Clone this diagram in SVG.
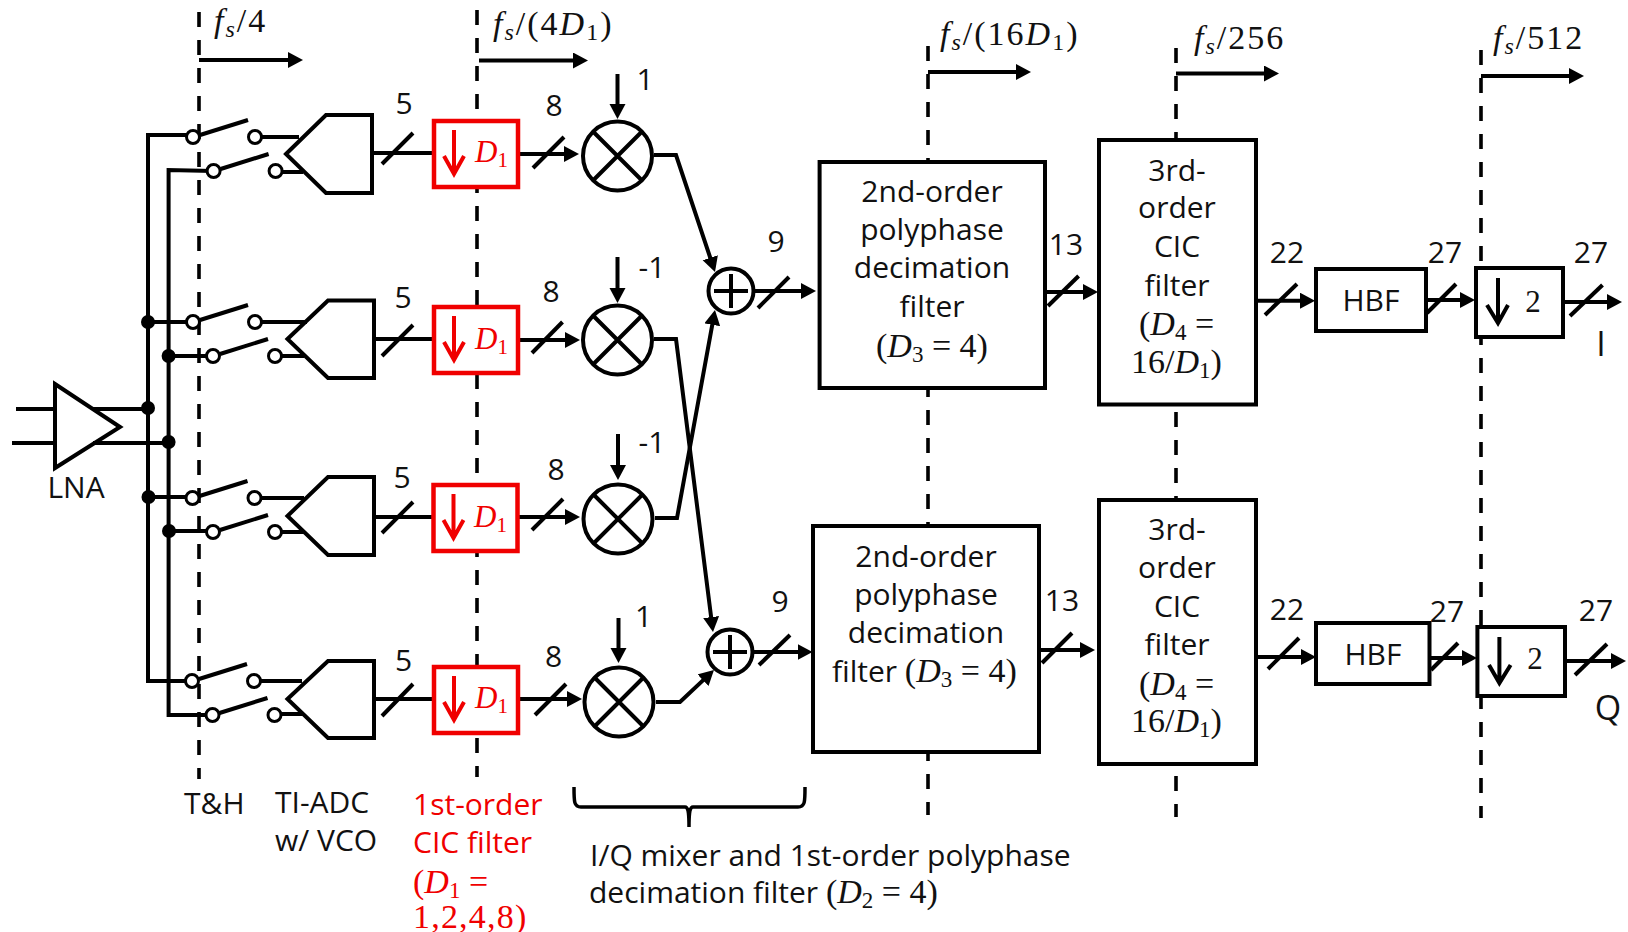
<svg xmlns="http://www.w3.org/2000/svg" width="1628" height="932" viewBox="0 0 1628 932">
<style>
.t{font-family:"Open Sans","Noto Sans","Liberation Sans",sans-serif;font-size:30px;fill:#111}
.big{font-size:34px}
.m{text-anchor:middle}
.r{fill:#f00000}
.q{font-family:"Liberation Serif","DejaVu Serif",serif;font-size:34px;fill:#111}
.f{letter-spacing:2px}
.qr{font-family:"Liberation Serif","DejaVu Serif",serif;font-size:31px;fill:#f00000}
.i{font-style:italic}
.two{font-size:31px}
.w{fill:none;stroke:#000;stroke-width:4}
.a{fill:none;stroke:#000;stroke-width:4;marker-end:url(#h)}
.d{fill:none;stroke:#000;stroke-width:3.6;stroke-dasharray:15 13}
.s{fill:none;stroke:#000;stroke-width:3.5}
.b{fill:#fff;stroke:#000;stroke-width:4}
.rb{fill:#fff;stroke:#f00000;stroke-width:4.5}
.ra{fill:none;stroke:#f00000;stroke-width:4}
.ba{fill:none;stroke:#000;stroke-width:4}
.c{fill:#fff;stroke:#000;stroke-width:3}
.j{fill:#000}
.x{fill:#fff;stroke:#000;stroke-width:4}
.adc{fill:none;stroke:#000;stroke-width:4;stroke-linejoin:miter}
</style>
<defs>
<marker id="h" markerUnits="userSpaceOnUse" markerWidth="16" markerHeight="18" refX="9" refY="8" orient="auto"><path d="M0 0L15 8L0 16Z" fill="#000"/></marker>
<g id="dn"><rect class="rb" x="2" y="2" width="84" height="66"/><path class="ra" d="M22 11V55M12 37L22 55L32 37"/></g>
<g id="mx"><circle class="x" r="34.500"/><path class="ba" d="M-24 -24L24 24M-24 24L24 -24"/></g>
<g id="ad"><circle class="x" r="22.500"/><path class="ba" d="M-17 0H17M0 -17V17"/></g>
<g id="sw"><path class="w" d="M7 -2L55 -17"/><circle class="c" r="6.500"/><circle class="c" cx="62" r="6.500"/></g>
</defs>

<g id="clock-lines">
<path class="d" d="M199 12V779"/>
<path class="d" d="M477 10V777"/>
<path class="d" d="M928 46V815"/>
<path class="d" d="M1176 48V817"/>
<path class="d" d="M1481 50V818"/>
</g>

<g id="connectors">
<path class="a" d="M199 60H297"/>
<path class="a" d="M479 60.500H582"/>
<path class="a" d="M928 72H1025"/>
<path class="a" d="M1176 73.500H1273"/>
<path class="a" d="M1481 76H1578"/>
<path class="w" d="M193 135H148V681H192"/>
<path class="w" d="M213 171L168.600 170V715H212"/>
<path class="w" d="M16 409H55M12 443H55M93 409H148M93 443H169"/>
<path class="w" d="M148 322H193M168.600 356H213M148.500 497H192M169 531H213"/>
<path class="w" d="M255 137H299M276 172H303M256 322H307M277 356H304M256 498H304M277.500 532H304M255 681H302M276 714H304"/>
<path class="w" d="M372 153H432M382 164L413 133M374 339H432M382 356L413 325M374 517H432M382 533L413 502M374 699H432M382 716L413 684"/>
<path class="a" d="M518 154H573"/><path class="w" d="M533 168L564 137"/>
<path class="a" d="M518 340H574"/><path class="w" d="M532 353L562.500 322"/>
<path class="a" d="M517 517H574"/><path class="w" d="M532 530L563 499"/>
<path class="a" d="M518 699H576"/><path class="w" d="M535 715L566 684"/>
<path class="a" d="M617.500 74V113"/>
<path class="a" d="M617.500 257V297"/>
<path class="a" d="M618 434V474"/>
<path class="a" d="M618.500 618V657"/>
<path class="a" d="M654 155H676L713.100 266.300"/>
<path class="a" d="M654 339H676L712.250 626"/>
<path class="a" d="M655 518H677L713.900 315.900"/>
<path class="a" d="M656 702H680L709.600 674.100"/>
<path class="a" d="M753 291H810"/><path class="w" d="M758 308L789 277"/>
<path class="a" d="M753 652H806.500"/><path class="w" d="M759 665L790 635"/>
<path class="a" d="M1046 292H1092"/><path class="w" d="M1048 306L1078.600 276"/>
<path class="a" d="M1039 650H1089"/><path class="w" d="M1042 663L1072 633"/>
<path class="a" d="M1256 300.700H1309"/><path class="w" d="M1265 315L1297 284"/>
<path class="a" d="M1256 657H1310"/><path class="w" d="M1268 669L1299 638"/>
<path class="a" d="M1426 300H1469"/><path class="w" d="M1427 313L1456 284"/>
<path class="a" d="M1429 658H1471"/><path class="w" d="M1431 670L1458 643"/>
<path class="a" d="M1563 302H1616"/><path class="w" d="M1570 316L1602.500 285"/>
<path class="a" d="M1565 661H1620"/><path class="w" d="M1575 675L1607 644"/>
</g>

<g id="junctions">
<circle class="j" cx="148" cy="322" r="7"/><circle class="j" cx="168.600" cy="356" r="7"/>
<circle class="j" cx="148" cy="408" r="7"/><circle class="j" cx="168.600" cy="442" r="7"/>
<circle class="j" cx="148.500" cy="497" r="7"/><circle class="j" cx="169" cy="531" r="7"/>
</g>

<g id="lna"><path class="adc" d="M55 384L120 427L55 468Z"/><text class="t m" x="76" y="498">LNA</text></g>

<g id="switches">
<use href="#sw" x="193" y="137"/><use href="#sw" x="213.600" y="171"/>
<use href="#sw" x="193" y="322"/><use href="#sw" x="213" y="356"/>
<use href="#sw" x="192.500" y="498"/><use href="#sw" x="213" y="532"/>
<use href="#sw" x="192" y="681"/><use href="#sw" x="212.500" y="715"/>
</g>

<g id="adc1"><path class="adc" d="M286 154L326 115H372V193H326Z"/></g>
<g id="adc2"><path class="adc" d="M287.500 339L328 300.500H374V378H328Z"/></g>
<g id="adc3"><path class="adc" d="M287.500 516L328 477H374V555H328Z"/></g>
<g id="adc4"><path class="adc" d="M287.500 699L328 661H374V738H328Z"/></g>

<g id="cic1a"><use href="#dn" x="432" y="119"/><text class="qr" x="475" y="162"><tspan class="i">D</tspan><tspan font-size="21" dy="5">1</tspan></text></g>
<g id="cic1b"><use href="#dn" x="432" y="305"/><text class="qr" x="475" y="349"><tspan class="i">D</tspan><tspan font-size="21" dy="5">1</tspan></text></g>
<g id="cic1c"><use href="#dn" x="431.500" y="483"/><text class="qr" x="474" y="527"><tspan class="i">D</tspan><tspan font-size="21" dy="5">1</tspan></text></g>
<g id="cic1d"><use href="#dn" x="432" y="665"/><text class="qr" x="475" y="708"><tspan class="i">D</tspan><tspan font-size="21" dy="5">1</tspan></text></g>

<g id="mixer1"><use href="#mx" x="617.500" y="156"/></g>
<g id="mixer2"><use href="#mx" x="617.500" y="340"/></g>
<g id="mixer3"><use href="#mx" x="618" y="519"/></g>
<g id="mixer4"><use href="#mx" x="619" y="702"/></g>
<g id="adder1"><use href="#ad" x="731" y="291"/></g>
<g id="adder2"><use href="#ad" x="730" y="652"/></g>

<g id="pd1"><rect class="b" x="819.600" y="162" width="225.400" height="226"/>
<text class="t m" x="932" y="202">2nd-order</text><text class="t m" x="932" y="240">polyphase</text><text class="t m" x="932" y="278">decimation</text><text class="t m" x="932" y="317">filter</text>
<text class="q" x="876" y="357">(<tspan class="i">D</tspan><tspan font-size="23" dy="5">3</tspan><tspan dy="-5"> = 4)</tspan></text></g>
<g id="pd2"><rect class="b" x="813" y="526" width="226" height="226"/>
<text class="t m" x="926" y="567">2nd-order</text><text class="t m" x="926" y="605">polyphase</text><text class="t m" x="926" y="643">decimation</text>
<text class="t" x="832" y="682">filter <tspan class="q">(<tspan class="i">D</tspan><tspan font-size="23" dy="5">3</tspan><tspan dy="-5"> = 4)</tspan></tspan></text></g>
<g id="cic3a"><rect class="b" x="1099" y="140" width="157" height="264.500"/>
<text class="t m" x="1177" y="181">3rd-</text><text class="t m" x="1177" y="218">order</text><text class="t m" x="1177" y="257">CIC</text><text class="t m" x="1177" y="296">filter</text>
<text class="q" x="1139" y="335">(<tspan class="i">D</tspan><tspan font-size="23" dy="5">4</tspan><tspan dy="-5"> =</tspan></text>
<text class="q" x="1131" y="373">16/<tspan class="i">D</tspan><tspan font-size="23" dy="5">1</tspan><tspan dy="-5">)</tspan></text></g>
<g id="cic3b"><rect class="b" x="1099" y="500" width="157" height="264"/>
<text class="t m" x="1177" y="540">3rd-</text><text class="t m" x="1177" y="578">order</text><text class="t m" x="1177" y="617">CIC</text><text class="t m" x="1177" y="655">filter</text>
<text class="q" x="1139" y="695">(<tspan class="i">D</tspan><tspan font-size="23" dy="5">4</tspan><tspan dy="-5"> =</tspan></text>
<text class="q" x="1131" y="732">16/<tspan class="i">D</tspan><tspan font-size="23" dy="5">1</tspan><tspan dy="-5">)</tspan></text></g>
<g id="hbf1"><rect class="b" x="1316" y="269" width="110" height="62"/><text class="t m" x="1371" y="311">HBF</text></g>
<g id="hbf2"><rect class="b" x="1316" y="623" width="113.500" height="61"/><text class="t m" x="1373" y="665">HBF</text></g>
<g id="dec1"><rect class="b" x="1476" y="268" width="87" height="69"/><path class="ba" d="M1498 278V323M1487 305L1498 323L1508 305"/><text class="q m two" x="1533" y="312">2</text></g>
<g id="dec2"><rect class="b" x="1477.400" y="627" width="87.600" height="69"/><path class="ba" d="M1499.400 637V683M1489 665L1499.400 683L1510.600 665"/><text class="q m two" x="1535" y="669">2</text></g>

<g id="brace"><path class="s" d="M574 787C574 802 574 807 581 807H685C688 807 689 812 689 827C689 812 690 807 693 807H798C805 807 805 802 805 787"/></g>

<g id="width-labels">
<text class="t m" x="404" y="114">5</text><text class="t m" x="403" y="308">5</text><text class="t m" x="402" y="488">5</text><text class="t m" x="403.500" y="671">5</text>
<text class="t m" x="554" y="116">8</text><text class="t m" x="551" y="302">8</text><text class="t m" x="556" y="480">8</text><text class="t m" x="553.600" y="667">8</text>
<text class="t m" x="645" y="90">1</text><text class="t m" x="652" y="278">-1</text><text class="t m" x="652" y="453">-1</text><text class="t m" x="643.500" y="627">1</text>
<text class="t m" x="776" y="252">9</text><text class="t m" x="780" y="612">9</text>
<text class="t m" x="1066" y="255">13</text><text class="t m" x="1062" y="611">13</text>
<text class="t m" x="1287" y="263">22</text><text class="t m" x="1287" y="620">22</text>
<text class="t m" x="1445" y="263">27</text><text class="t m" x="1447" y="622">27</text>
<text class="t m" x="1591" y="263">27</text><text class="t m" x="1596" y="621">27</text>
<text class="t m big" x="1601" y="356">I</text><text class="t m big" x="1608" y="720">Q</text>
</g>

<g id="rate-labels">
<text class="q f" x="214" y="32"><tspan class="i">f</tspan><tspan class="i" font-size="24" dy="5">s</tspan><tspan dy="-5">/4</tspan></text>
<text class="q f" x="493" y="35"><tspan class="i">f</tspan><tspan class="i" font-size="24" dy="5">s</tspan><tspan dy="-5">/(4</tspan><tspan class="i">D</tspan><tspan font-size="24" dy="5">1</tspan><tspan dy="-5">)</tspan></text>
<text class="q f" x="940" y="45"><tspan class="i">f</tspan><tspan class="i" font-size="24" dy="5">s</tspan><tspan dy="-5">/(16</tspan><tspan class="i">D</tspan><tspan font-size="24" dy="5">1</tspan><tspan dy="-5">)</tspan></text>
<text class="q f" x="1194" y="49"><tspan class="i">f</tspan><tspan class="i" font-size="24" dy="5">s</tspan><tspan dy="-5">/256</tspan></text>
<text class="q f" x="1493" y="49"><tspan class="i">f</tspan><tspan class="i" font-size="24" dy="5">s</tspan><tspan dy="-5">/512</tspan></text>
</g>

<g id="captions">
<text class="t" x="184" y="814">T&amp;H</text>
<text class="t" x="275" y="813">TI-ADC</text><text class="t" x="275" y="851">w/ VCO</text>
<text class="t r" x="413" y="815">1st-order</text><text class="t r" x="413" y="853">CIC filter</text>
<text class="q" style="fill:#f00000" x="413" y="893">(<tspan class="i">D</tspan><tspan font-size="23" dy="5">1</tspan><tspan dy="-5"> =</tspan></text>
<text class="q" style="fill:#f00000;letter-spacing:1.2px" x="413" y="928">1,2,4,8)</text>
<text class="t" x="590" y="866">I/Q mixer and 1st-order polyphase</text>
<text class="t" x="589" y="903">decimation filter <tspan class="q">(<tspan class="i">D</tspan><tspan font-size="23" dy="5">2</tspan><tspan dy="-5"> = 4)</tspan></tspan></text>
</g>
</svg>
